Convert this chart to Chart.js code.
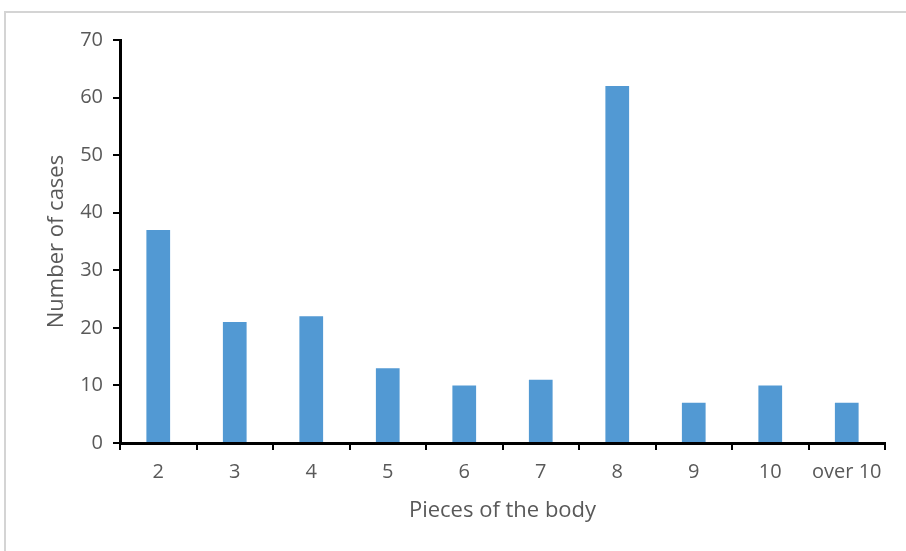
<!DOCTYPE html>
<html>
<head>
<meta charset="utf-8">
<script src="https://cdn.jsdelivr.net/npm/chart.js@4.4.1/dist/chart.umd.min.js"></script>
<style>
html,body{margin:0;padding:0;background:#fff;}
#wrap{position:relative;width:906px;height:551px;overflow:hidden;}
#frame{position:absolute;left:4px;top:11px;width:920px;height:560px;border-top:2px solid #d4d4d4;border-left:2px solid #d4d4d4;box-sizing:border-box;}
canvas{position:absolute;left:0;top:0;}
</style>
</head>
<body>
<div id="wrap">
<div id="frame"></div>
<canvas id="c" width="906" height="551"></canvas>
</div>
<script>
const categories = ["2","3","4","5","6","7","8","9","10","over 10"];
const cases = [37,21,22,13,10,11,62,7,10,7];
const yTicks = [0,10,20,30,40,50,60,70];
const xTitle = "Pieces of the body";
const yTitle = "Number of cases";

const tickFont = {family:"'Open Sans', sans-serif", size:20};
const titleFont = {family:"'Open Sans', sans-serif", size:22};

new Chart(document.getElementById('c'), {
  type:'bar',
  data:{labels:categories, datasets:[{data:cases, backgroundColor:'#5299d3', borderWidth:0, barPercentage:0.31, categoryPercentage:1}]},
  options:{
    responsive:false, animation:false,
    layout:{padding:{left:0,right:21,top:40,bottom:0}},
    plugins:{legend:{display:false}, tooltip:{enabled:false}},
    scales:{
      x:{
        grid:{display:true, drawOnChartArea:false, drawTicks:true, tickLength:7, color:'#000', lineWidth:2, offset:true},
        border:{display:true, color:'#000', width:3},
        ticks:{color:'#595959', font:tickFont, padding:10, maxRotation:0, autoSkip:false},
        title:{display:true, text:xTitle, color:'#595959', font:titleFont, padding:{top:0,bottom:27}},
        afterFit:(s)=>{s.height=108;}
      },
      y:{
        min:0, max:70,
        afterBuildTicks:(s)=>{s.ticks = yTicks.map(v=>({value:v}));},
        grid:{display:true, drawOnChartArea:false, drawTicks:true, tickLength:7, color:'#000', lineWidth:2},
        border:{display:true, color:'#000', width:3},
        ticks:{color:'#595959', font:tickFont, padding:10},
        title:{display:true, text:yTitle, color:'#595959', font:titleFont, padding:{top:44,bottom:0}},
        afterFit:(s)=>{s.width=120;}
      }
    }
  }
});
</script>
</body>
</html>
